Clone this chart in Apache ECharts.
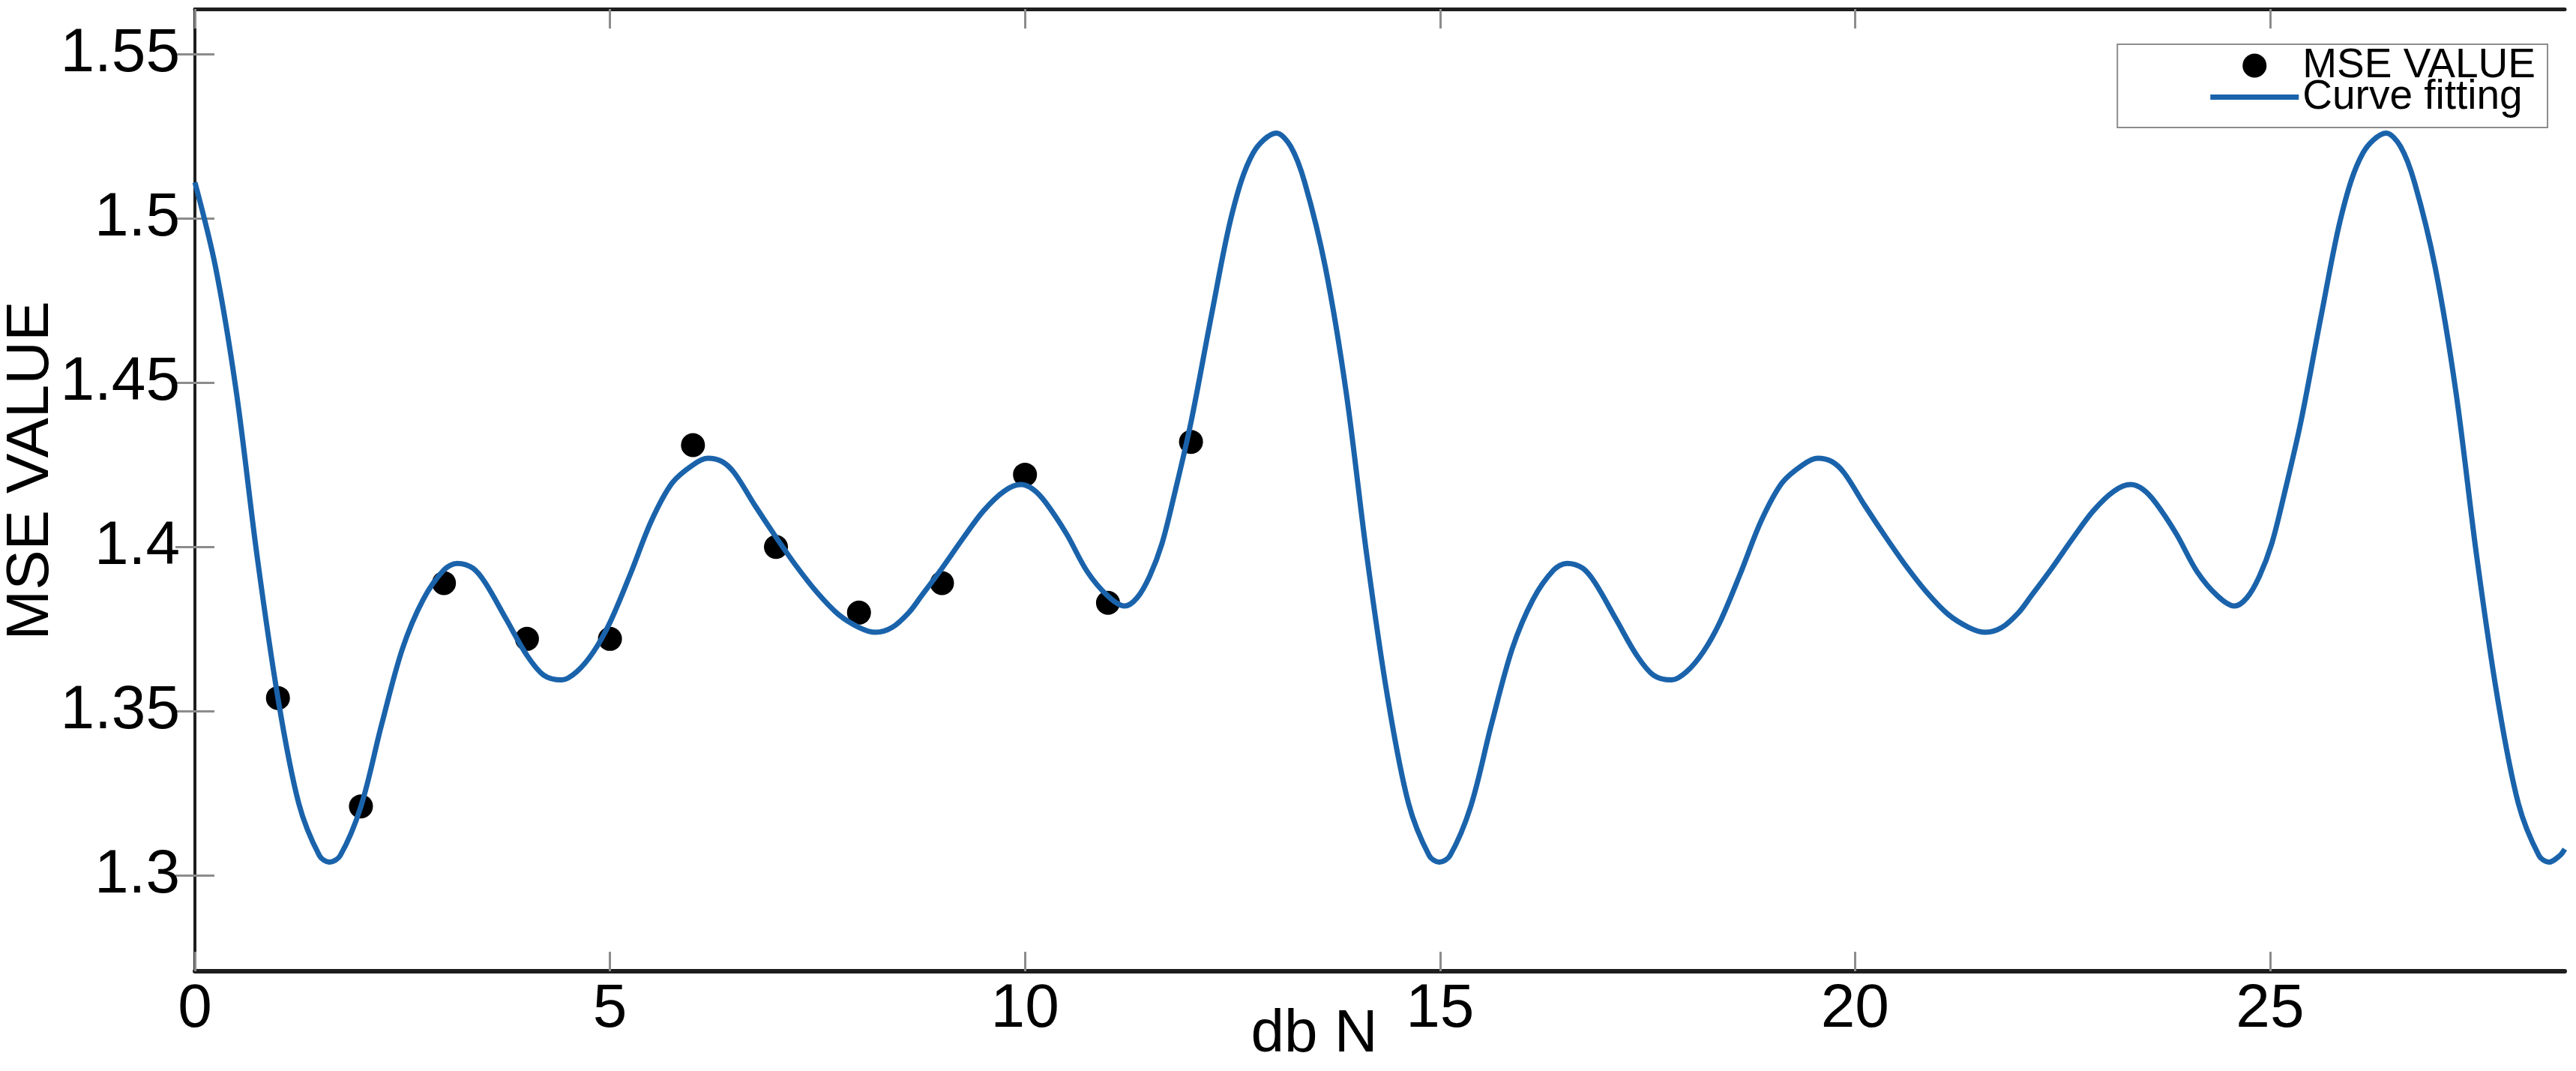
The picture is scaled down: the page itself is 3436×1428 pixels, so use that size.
<!DOCTYPE html>
<html>
<head>
<meta charset="utf-8">
<script src="https://cdn.jsdelivr.net/npm/echarts@6/dist/echarts.min.js"></script>
<style>
html,body{margin:0;padding:0;background:#fff;}
#chart{width:3436px;height:1428px;}
</style>
</head>
<body>
<div id="chart"></div>
<script>
// ---- data ----
const pointX = [1, 2, 3, 4, 5, 6, 7, 8, 9, 10, 11, 12];
const pointY = [1.354, 1.321, 1.389, 1.372, 1.372, 1.431, 1.400, 1.380, 1.389, 1.422, 1.383, 1.432];

// fitted curve
const curveX = [
  0.00, 0.25, 0.50, 0.75, 1.00, 1.25, 1.50, 1.62, 1.75, 2.00, 2.25, 2.50, 2.75, 3.00, 3.16, 3.35, 3.50, 3.75, 4.00, 4.20,
  4.42, 4.60, 4.80, 5.00, 5.25, 5.50, 5.75, 6.00, 6.18, 6.35, 6.50, 6.75, 7.00, 7.25, 7.50, 7.75, 8.00, 8.20, 8.40, 8.60,
  8.75, 9.00, 9.25, 9.50, 9.75, 9.95, 10.10, 10.25, 10.50, 10.75, 11.00, 11.20, 11.35, 11.50, 11.65, 11.80, 12.00, 12.25, 12.50, 12.75,
  13.03, 13.20, 13.37, 13.62, 13.87, 14.12, 14.37, 14.62, 14.87, 14.99, 15.12, 15.37, 15.62, 15.87, 16.12, 16.37, 16.53, 16.72, 16.87, 17.12,
  17.37, 17.57, 17.79, 17.97, 18.17, 18.37, 18.62, 18.87, 19.12, 19.37, 19.55, 19.72, 19.87, 20.12, 20.37, 20.62, 20.87, 21.12, 21.37, 21.57,
  21.77, 21.97, 22.12, 22.37, 22.62, 22.87, 23.12, 23.32, 23.47, 23.62, 23.87, 24.12, 24.37, 24.57, 24.72, 24.87, 25.02, 25.17, 25.37, 25.62,
  25.87, 26.12, 26.40, 26.57, 26.74, 26.99, 27.24, 27.49, 27.74, 27.99, 28.24, 28.36, 28.49, 28.55
];
const curveY = [
  1.511, 1.485, 1.447, 1.397, 1.354, 1.322, 1.306, 1.304, 1.306, 1.321, 1.346, 1.369, 1.384, 1.393, 1.395, 1.3935, 1.389, 1.378, 1.367, 1.361,
  1.3595, 1.362, 1.368, 1.377, 1.392, 1.408, 1.4195, 1.425, 1.427, 1.426, 1.4225, 1.4125, 1.403, 1.394, 1.386, 1.3795, 1.3755, 1.374, 1.3755, 1.380,
  1.385, 1.3935, 1.4025, 1.411, 1.417, 1.419, 1.4175, 1.4135, 1.404, 1.3925, 1.385, 1.382, 1.3845, 1.391, 1.401, 1.416, 1.438, 1.471, 1.502, 1.520,
  1.526, 1.522, 1.511, 1.485, 1.447, 1.397, 1.354, 1.322, 1.306, 1.304, 1.306, 1.321, 1.346, 1.369, 1.384, 1.393, 1.395, 1.3935, 1.389, 1.378,
  1.367, 1.361, 1.3595, 1.362, 1.368, 1.377, 1.392, 1.408, 1.4195, 1.425, 1.427, 1.426, 1.4225, 1.4125, 1.403, 1.394, 1.386, 1.3795, 1.3755, 1.374,
  1.3755, 1.380, 1.385, 1.3935, 1.4025, 1.411, 1.417, 1.419, 1.4175, 1.4135, 1.404, 1.3925, 1.385, 1.382, 1.3845, 1.391, 1.401, 1.416, 1.438, 1.471,
  1.502, 1.520, 1.526, 1.522, 1.511, 1.485, 1.447, 1.397, 1.354, 1.322, 1.306, 1.304, 1.306, 1.308
];

const xTicks = [0, 5, 10, 15, 20, 25];
const yTicks = [1.3, 1.35, 1.4, 1.45, 1.5, 1.55];
const xRange = [0, 28.55];
const yRange = [1.2708, 1.5638];

const seriesNames = ['MSE VALUE', 'Curve fitting'];
const axisNames = { x: 'db N', y: 'MSE VALUE' };

// ---- chart ----
const FONT = 'Liberation Sans, Arial, Helvetica, sans-serif';
const BLUE = '#1a63ab';
const FRAME = '#1e1e1e';
const TICK = '#8c8c8c';

const scatterData = pointX.map((x, i) => [x, pointY[i]]);
const curveData = curveX.map((x, i) => [x, curveY[i]]);

const tickStyle = { show: true, inside: true, length: 26, lineStyle: { color: TICK, width: 3 } };

const chart = echarts.init(document.getElementById('chart'), null, { renderer: 'canvas' });
chart.setOption({
  animation: false,
  backgroundColor: '#ffffff',
  grid: { left: 260, right: 15, top: 12, bottom: 133, outerBoundsMode: 'none', containLabel: false },
  legend: {
    orient: 'vertical',
    right: 38,
    top: 59,
    padding: [1, 16, 13, 124],
    itemGap: -13,
    itemWidth: 118,
    itemHeight: 32,
    backgroundColor: '#ffffff',
    borderColor: '#8c8c8c',
    borderWidth: 2,
    borderRadius: 0,
    itemStyle: { borderWidth: 0 },
    textStyle: { fontFamily: FONT, fontSize: 55, color: '#000' },
    data: [
      { name: seriesNames[0], icon: 'circle' },
      { name: seriesNames[1], icon: 'path://M0,0L118,0L118,7L0,7Z' }
    ]
  },
  xAxis: [
    {
      type: 'value', position: 'bottom', min: xRange[0], max: xRange[1],
      name: axisNames.x, nameLocation: 'middle', nameGap: 45, nameMoveOverlap: false,
      nameTextStyle: { fontFamily: FONT, fontSize: 80, color: '#000', padding: [0, 175, 0, 0] },
      axisLine: { show: true, lineStyle: { color: FRAME, width: 6 } },
      axisTick: Object.assign({ customValues: xTicks }, tickStyle),
      axisLabel: { customValues: xTicks, fontFamily: FONT, fontSize: 82, color: '#000', margin: 10 },
      splitLine: { show: false }
    },
    {
      type: 'value', position: 'top', min: xRange[0], max: xRange[1],
      axisLine: { show: true, lineStyle: { color: FRAME, width: 5 } },
      axisTick: Object.assign({ customValues: xTicks }, tickStyle),
      axisLabel: { show: false },
      splitLine: { show: false }
    }
  ],
  yAxis: [
    {
      type: 'value', position: 'left', min: yRange[0], max: yRange[1],
      name: axisNames.y, nameLocation: 'middle', nameGap: 178, nameMoveOverlap: false,
      nameTextStyle: { fontFamily: FONT, fontSize: 80, color: '#000', padding: [0, 0, 0, 52] },
      axisLine: { show: true, lineStyle: { color: FRAME, width: 4 } },
      axisTick: Object.assign({ customValues: yTicks }, tickStyle),
      axisLabel: { customValues: yTicks, fontFamily: FONT, fontSize: 82, color: '#000', margin: 20, padding: [0, 0, 20, 0] },
      splitLine: { show: false }
    },
    {
      type: 'value', position: 'right', min: yRange[0], max: yRange[1],
      axisLine: { show: true, lineStyle: { color: FRAME, width: 4 } },
      axisTick: Object.assign({ customValues: yTicks }, tickStyle),
      axisLabel: { show: false },
      splitLine: { show: false }
    }
  ],
  series: [
    {
      name: seriesNames[0],
      type: 'scatter',
      xAxisIndex: 0, yAxisIndex: 0,
      data: scatterData,
      symbol: 'circle',
      symbolSize: 32,
      itemStyle: { color: '#000000', opacity: 1 },
      z: 2
    },
    {
      name: seriesNames[1],
      type: 'line',
      xAxisIndex: 0, yAxisIndex: 0,
      data: curveData,
      smooth: 0.33,
      symbol: 'none',
      showSymbol: false,
      lineStyle: { color: BLUE, width: 7 },
      itemStyle: { color: BLUE },
      z: 3
    }
  ]
});
</script>
</body>
</html>
